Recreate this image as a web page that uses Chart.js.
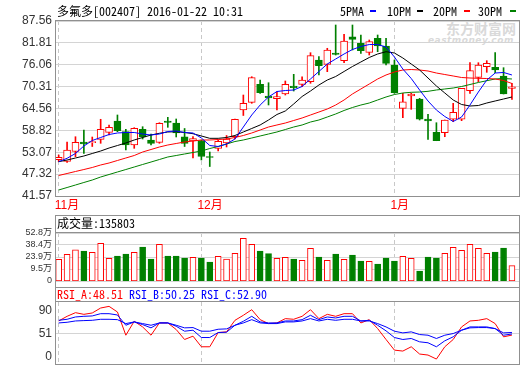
<!DOCTYPE html>
<html>
<head>
<meta charset="utf-8">
<script src="https://cdn.jsdelivr.net/npm/chart.js@4.4.1/dist/chart.umd.min.js"></script>
<style>
  html, body { margin: 0; padding: 0; background: #fff; }
  body { width: 520px; height: 365px; position: relative; overflow: hidden;
         font-family: "Noto Sans Mono CJK SC", "Liberation Mono", monospace; font-size: 12px; color: #000; }
  canvas { position: absolute; left: 0; z-index: 1; }
  .txt { position: absolute; white-space: pre; line-height: 14px; z-index: 2; }
  .dash { position: absolute; width: 6px; height: 2px; top: 10px; z-index: 2; }
  #wm { position: absolute; left: 446px; top: 20px; z-index: 0; color: #d9d9d9;
        font-family: "Noto Sans CJK SC", sans-serif; font-weight: bold; font-size: 14px; line-height: 16px; }
  #wm small { display: block; font-family: "DejaVu Sans", sans-serif; font-style: italic;
              font-size: 9px; line-height: 9px; margin-left: -18px; letter-spacing: 0.5px; }
</style>
</head>
<body>
<div id="wm">东方财富网<small>eastmoney.com</small></div>

<canvas id="main" width="520" height="215" style="top:0"></canvas>
<canvas id="vol" width="520" height="73" style="top:215px"></canvas>
<canvas id="rsi" width="520" height="78" style="top:287px"></canvas>

<div class="txt" style="left:57px; top:4px">多氟多[002407] 2016-01-22 10:31</div>
<div class="txt" style="left:340px; top:4px">5PMA</div><span class="dash" style="left:370px; background:#00f"></span>
<div class="txt" style="left:387px; top:4px">10PM</div><span class="dash" style="left:417px; background:#000"></span>
<div class="txt" style="left:433px; top:4px">20PM</div><span class="dash" style="left:464px; background:#f00"></span>
<div class="txt" style="left:478px; top:4px">30PM</div><span class="dash" style="left:510px; background:#008000"></span>
<div class="txt" style="left:57px; top:216px">成交量:135803</div>
<div class="txt" style="left:57px; top:287px"><span style="color:#f00">RSI_A:48.51</span> <span style="color:#00f">RSI_B:50.25</span> <span style="color:#00f">RSI_C:52.90</span></div>

<script>
// --- DATA ---
const monthIdx = [0, 17, 40];
const monthLabels = ['11月', '12月', '1月'];

const priceTicks = [41.57, 47.32, 53.07, 58.82, 64.56, 70.31, 76.06, 81.81, 87.56];
const volTickValues = [-4.93, 9.5, 23.93, 38.37, 52.8];
const volTickLabels = ['0', '9.5万', '23.9万', '38.4万', '52.8万'];
const rsiTickValues = [13, 51, 90];
const rsiTickLabels = ['0', '51', '90'];

const open = [51.11, 50.64, 53.26, 55.76, 55.58, 56.47, 58.31, 61.28, 58.47, 54.97, 59.10, 56.29, 55.68, 61.28, 60.75, 57.15, 56.02, 56.15, 51.95, 54.05, 55.50, 57.15, 64.17, 66.19, 70.92, 67.85, 67.14, 68.38, 70.48, 70.92, 71.61, 77.31, 76.18, 79.15, 77.13, 83.43, 81.70, 79.33, 83.01, 80.99, 75.99, 64.61, 67.85, 67.06, 61.81, 58.31, 58.20, 61.73, 61.73, 69.24, 72.76, 75.55, 75.39, 73.11, 69.87];
const close = [51.74, 53.66, 55.68, 55.23, 55.84, 59.10, 59.62, 58.73, 54.97, 59.36, 57.08, 55.42, 60.67, 60.89, 58.12, 55.42, 56.68, 51.95, 51.69, 55.94, 56.55, 61.73, 65.93, 72.66, 68.72, 67.32, 67.67, 70.92, 70.03, 72.05, 78.44, 75.81, 79.94, 78.81, 82.30, 82.75, 79.75, 82.12, 80.99, 76.44, 68.72, 66.35, 68.38, 61.73, 61.28, 56.10, 61.54, 63.57, 69.87, 74.50, 75.99, 76.44, 74.68, 68.38, 70.29];
const high = [52.35, 55.76, 57.15, 58.91, 57.07, 61.73, 60.23, 62.86, 59.10, 59.52, 59.78, 57.86, 60.83, 62.25, 61.81, 59.31, 57.21, 56.29, 53.13, 56.29, 57.47, 61.81, 68.11, 72.92, 72.05, 71.34, 68.98, 71.79, 73.55, 72.92, 79.23, 78.18, 80.39, 86.51, 84.06, 86.51, 83.88, 82.57, 83.88, 83.01, 77.31, 68.56, 68.56, 67.24, 63.04, 60.83, 61.54, 65.93, 69.87, 76.60, 76.60, 77.13, 79.23, 75.29, 71.19];
const low = [50.63, 50.37, 51.90, 52.79, 54.58, 55.42, 57.60, 58.47, 53.66, 54.10, 56.55, 54.97, 55.42, 59.62, 57.08, 54.58, 51.56, 51.03, 49.32, 53.40, 54.45, 56.55, 62.73, 65.93, 68.51, 65.49, 64.17, 68.11, 69.16, 70.29, 71.19, 73.37, 74.24, 78.62, 76.60, 79.94, 79.07, 78.62, 79.49, 75.99, 68.56, 62.15, 64.35, 61.54, 56.47, 56.10, 57.15, 61.10, 61.36, 68.56, 71.61, 74.08, 73.97, 68.38, 66.98];

const ma5 = [50.58, 51.48, 52.74, 54.71, 56.15, 56.94, 57.73, 58.13, 58.26, 58.26, 57.86, 57.60, 57.86, 58.52, 58.65, 58.26, 58.13, 56.81, 54.84, 54.58, 55.23, 56.55, 59.70, 62.86, 65.48, 67.59, 69.03, 69.29, 69.43, 70.35, 72.32, 74.29, 76.26, 77.57, 78.89, 80.07, 80.86, 81.38, 81.38, 80.73, 78.10, 74.94, 72.45, 69.43, 66.54, 64.17, 62.46, 61.15, 62.33, 65.48, 68.90, 72.05, 73.89, 74.03, 73.37];
const ma10 = [50.58, 51.03, 51.56, 52.08, 52.74, 53.39, 54.18, 54.84, 55.50, 56.29, 56.94, 57.60, 58.05, 58.39, 58.47, 58.26, 57.94, 57.34, 56.73, 56.73, 56.94, 57.47, 58.39, 59.31, 60.23, 61.54, 62.99, 63.91, 65.75, 67.72, 69.16, 70.74, 72.05, 72.97, 74.29, 75.60, 76.79, 77.97, 78.89, 79.49, 79.15, 77.84, 76.26, 74.68, 72.58, 70.48, 68.64, 66.80, 65.62, 65.22, 65.35, 66.01, 66.54, 67.06, 67.59];
const ma20 = [46.96, 47.48, 48.01, 48.53, 49.06, 49.72, 50.24, 50.90, 51.56, 52.21, 53.13, 53.79, 54.45, 54.97, 55.37, 55.76, 56.02, 56.29, 56.29, 56.42, 56.55, 56.94, 57.47, 58.13, 58.91, 59.70, 60.23, 60.75, 61.41, 62.07, 62.86, 63.64, 64.43, 65.48, 66.80, 68.38, 69.69, 71.00, 72.32, 73.37, 74.16, 74.68, 74.81, 74.68, 74.42, 73.89, 73.50, 73.11, 72.71, 72.58, 72.50, 72.45, 72.32, 71.92, 71.14];
const ma30 = [43.15, 43.80, 44.46, 45.12, 45.77, 46.56, 47.22, 47.88, 48.53, 49.19, 49.85, 50.50, 51.16, 51.82, 52.21, 52.61, 53.00, 53.39, 54.05, 54.58, 55.23, 55.89, 56.29, 56.81, 57.34, 57.86, 58.39, 59.04, 59.70, 60.23, 61.01, 61.54, 62.33, 63.12, 64.04, 64.83, 65.48, 66.01, 66.80, 67.59, 68.24, 68.64, 68.82, 68.90, 69.08, 69.43, 69.69, 69.95, 70.35, 70.87, 71.40, 71.87, 72.32, 72.45, 72.32];

// volume in 万
const vol = [21.2, 27.2, 32.7, 31.2, 29.6, 40.4, 22.4, 25.1, 27.5, 29.6, 36.0, 21.5, 39.2, 25.1, 25.1, 22.7, 23.6, 22.7, 17.9, 24.8, 21.5, 28.4, 46.4, 39.2, 31.2, 27.9, 22.4, 23.6, 21.5, 20.0, 34.4, 23.9, 20.0, 27.5, 21.2, 26.3, 19.1, 18.8, 15.5, 22.7, 19.1, 24.8, 22.4, 7.1, 23.9, 22.7, 28.4, 35.6, 32.0, 39.2, 34.4, 28.4, 30.0, 34.8, 13.6];

const rsiA = [72.2, 80.0, 86.1, 83.3, 85.6, 93.9, 96.7, 87.2, 48.3, 71.7, 62.2, 48.3, 68.9, 68.9, 57.8, 41.1, 46.7, 28.9, 28.9, 52.8, 53.9, 73.3, 81.7, 91.1, 74.4, 67.8, 68.9, 76.1, 75.0, 80.0, 91.1, 76.1, 83.3, 80.0, 84.4, 84.4, 68.9, 74.4, 59.4, 41.1, 23.3, 21.7, 28.9, 16.7, 15.0, 8.3, 28.9, 41.1, 62.2, 72.2, 73.3, 76.1, 67.8, 45.6, 48.5];
const rsiB = [73.3, 75.0, 78.9, 80.0, 80.6, 84.4, 84.4, 82.2, 65.0, 70.6, 66.1, 60.6, 68.9, 68.9, 63.3, 55.0, 56.7, 44.4, 44.4, 52.8, 53.3, 65.0, 71.7, 80.0, 70.6, 68.9, 68.9, 72.2, 72.2, 74.4, 81.7, 74.4, 78.9, 77.2, 80.0, 80.0, 72.2, 73.3, 65.0, 55.6, 44.4, 41.1, 42.8, 37.2, 35.6, 28.9, 38.9, 45.6, 56.7, 62.2, 62.2, 62.2, 59.4, 48.3, 50.3];
const rsiC = [68.9, 70.0, 72.2, 72.8, 73.3, 75.0, 75.0, 74.4, 67.8, 70.6, 67.8, 65.0, 68.9, 68.9, 65.0, 60.6, 61.1, 55.0, 55.0, 58.3, 58.9, 65.0, 68.9, 74.4, 68.9, 67.8, 67.8, 70.6, 70.6, 72.2, 76.1, 72.2, 75.0, 73.3, 75.0, 75.0, 72.2, 72.2, 67.8, 62.2, 55.0, 52.2, 53.9, 49.4, 48.3, 42.8, 48.3, 51.1, 56.7, 60.6, 61.1, 61.1, 59.4, 52.2, 52.9];

// --- STYLE ---
const RED = '#ff0000', GREEN = '#008000', BLUE = '#0000ff', BLACK = '#000000';
const FRAME = '#909090', GRID = '#d4d4d4';
const FONT = '"Liberation Sans", "Noto Sans CJK SC", sans-serif';
const X_MIN = -0.32, X_MAX = 54.84;

const idx = open.map((_, i) => i);
const isUp = i => close[i] >= open[i];
const pts = arr => arr.map((v, i) => ({ x: i, y: v }));

// frame round the panel (box) and the line under the panel title
const framePlugin = {
  id: 'frame',
  afterDraw(chart, args, opts) {
    const { ctx, chartArea: a } = chart;
    const l = a.left - 0.5, r = a.right + 0.5;
    const top = opts.boxTop != null ? opts.boxTop : a.top - 0.5;
    const bottom = opts.boxBottom != null ? opts.boxBottom : a.bottom + 0.5;
    ctx.save();
    ctx.strokeStyle = FRAME;
    ctx.lineWidth = 1;
    ctx.strokeRect(l, top, r - l, bottom - top);
    if (opts.boxTop != null) {
      ctx.beginPath();
      ctx.moveTo(l, a.top - 0.5);
      ctx.lineTo(r, a.top - 0.5);
      ctx.stroke();
    }
    ctx.restore();
  }
};

function xAxis(showLabels, height) {
  return {
    type: 'linear', min: X_MIN, max: X_MAX, offset: false,
    afterBuildTicks: s => { s.ticks = monthIdx.map(v => ({ value: v })); },
    afterFit: s => { s.height = height; s.paddingLeft = 0; s.paddingRight = 0; },
    grid: { color: '#c8c8c8', drawTicks: false, offset: false },
    border: { display: false, dash: [4, 3] },
    ticks: {
      display: showLabels, autoSkip: false, maxRotation: 0, align: 'start', labelOffset: -4, padding: 2,
      color: RED, font: { family: FONT, size: 12 },
      callback: (v, i) => monthLabels[i]
    }
  };
}

function yAxis(min, max, values, labels, fontSize, gridColor) {
  return {
    min, max,
    afterBuildTicks: s => { s.ticks = values.map(v => ({ value: v })); },
    afterFit: s => { s.width = 56; s.paddingTop = 0; s.paddingBottom = 0; },
    grid: { color: gridColor, drawTicks: false },
    border: { display: false },
    ticks: {
      autoSkip: false, padding: 4, color: '#333', font: { family: FONT, size: fontSize },
      callback: (v, i) => labels[i]
    }
  };
}

const baseOptions = {
  responsive: false,
  animation: false,
  events: [],
  plugins: { legend: { display: false }, tooltip: { enabled: false } }
};

// --- PRICE PANEL ---
new Chart(document.getElementById('main'), {
  type: 'bar',
  data: {
    datasets: [
      { type: 'line', data: pts(ma5), borderColor: BLUE, borderWidth: 1, pointRadius: 0, order: 0 },
      { type: 'line', data: pts(ma10), borderColor: BLACK, borderWidth: 1, pointRadius: 0, order: 0 },
      { type: 'line', data: pts(ma20), borderColor: RED, borderWidth: 1, pointRadius: 0, order: 0 },
      { type: 'line', data: pts(ma30), borderColor: GREEN, borderWidth: 1, pointRadius: 0, order: 0 },
      {
        data: idx.map(i => ({ x: i, y: [Math.min(open[i], close[i]), Math.max(open[i], close[i])] })),
        backgroundColor: idx.map(i => isUp(i) ? '#ffffff' : GREEN),
        borderColor: idx.map(i => isUp(i) ? RED : GREEN),
        borderWidth: 1, borderSkipped: false, barThickness: 7, grouped: false, order: 1
      },
      {
        data: idx.map(i => ({ x: i, y: [low[i], high[i]] })),
        backgroundColor: idx.map(i => isUp(i) ? RED : GREEN),
        barThickness: 1, grouped: false, order: 2
      }
    ]
  },
  options: {
    ...baseOptions,
    layout: { padding: { top: 21, right: 1, left: 0, bottom: 0 } },
    scales: {
      x: xAxis(true, 19),
      y: yAxis(priceTicks[0], priceTicks[priceTicks.length - 1], priceTicks,
               priceTicks.map(v => v.toFixed(2)), 12, GRID)
    },
    plugins: { ...baseOptions.plugins, frame: {} }
  },
  plugins: [framePlugin]
});

// --- VOLUME PANEL ---
const VOL_MIN = volTickValues[0];
new Chart(document.getElementById('vol'), {
  type: 'bar',
  data: {
    datasets: [{
      data: idx.map(i => ({ x: i, y: [VOL_MIN, vol[i]] })),
      backgroundColor: idx.map(i => isUp(i) ? '#ffffff' : GREEN),
      borderColor: idx.map(i => isUp(i) ? RED : GREEN),
      borderWidth: 1, borderSkipped: false, barThickness: 6, grouped: false
    }]
  },
  options: {
    ...baseOptions,
    layout: { padding: { top: 18, right: 1, left: 0, bottom: 0 } },
    scales: {
      x: xAxis(false, 7),
      y: yAxis(VOL_MIN, volTickValues[volTickValues.length - 1], volTickValues, volTickLabels, 9, GRID)
    },
    plugins: { ...baseOptions.plugins, frame: { boxTop: 0.5, boxBottom: 72.5 } }
  },
  plugins: [framePlugin]
});

// --- RSI PANEL ---
new Chart(document.getElementById('rsi'), {
  type: 'line',
  data: {
    datasets: [
      { data: pts(rsiC), borderColor: BLUE, borderWidth: 1, pointRadius: 0 },
      { data: pts(rsiB), borderColor: BLUE, borderWidth: 1, pointRadius: 0 },
      { data: pts(rsiA), borderColor: RED, borderWidth: 1, pointRadius: 0 }
    ]
  },
  options: {
    ...baseOptions,
    layout: { padding: { top: 15, right: 1, left: 0, bottom: 0 } },
    scales: {
      x: xAxis(false, 1),
      y: {
        ...yAxis(0, 104, rsiTickValues, rsiTickLabels, 12, GRID),
        grid: { drawTicks: false, color: c => (c.tick && c.tick.value === 51) ? GRID : 'rgba(0,0,0,0)' }
      }
    },
    plugins: { ...baseOptions.plugins, frame: { boxTop: 0.5, boxBottom: 77.5 } }
  },
  plugins: [framePlugin]
});
</script>
</body>
</html>
